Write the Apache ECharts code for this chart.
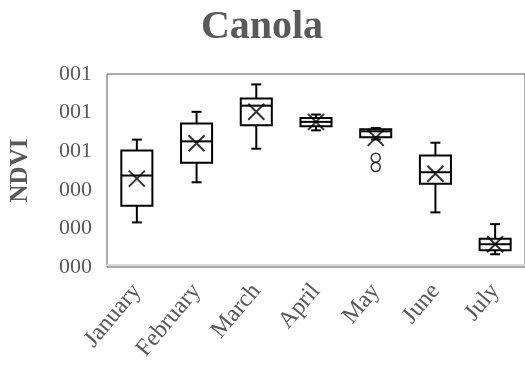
<!DOCTYPE html>
<html>
<head>
<meta charset="utf-8">
<script src="https://cdn.jsdelivr.net/npm/echarts@6/dist/echarts.min.js"></script>
<style>
  html, body { margin: 0; padding: 0; background: #fff; }
  #chart { width: 525px; height: 378px; }
</style>
</head>
<body>
<div id="chart"></div>
<script>
// Monthly NDVI distribution for canola
const months = ['January', 'February', 'March', 'April', 'May', 'June', 'July'];
const whiskerLow  = [0.231, 0.439, 0.613, 0.708, 0.661, 0.283, 0.066];
const quartile1   = [0.318, 0.540, 0.734, 0.729, 0.672, 0.431, 0.087];
const medians     = [0.474, 0.651, 0.836, 0.752, 0.703, 0.491, 0.118];
const quartile3   = [0.604, 0.743, 0.873, 0.772, 0.714, 0.578, 0.147];
const whiskerHigh = [0.660, 0.804, 0.946, 0.790, 0.720, 0.644, 0.222];
const means       = [0.458, 0.641, 0.804, 0.752, 0.669, 0.483, 0.118];
// outlying points: [month index, value]
const outliers    = [[4, 0.566], [4, 0.518]];
const yTicks = { min: 0, max: 1, interval: 0.2 };

const textGray = '#595959';
const serif = 'Liberation Serif, DejaVu Serif, serif';

const boxData = months.map((m, i) => [i, whiskerLow[i], quartile1[i], medians[i], quartile3[i], whiskerHigh[i]]);
const meanData = months.map((m, i) => [i, means[i]]);

function renderBox(params, api) {
  const i = api.value(0);
  const pLow = api.coord([i, api.value(1)]);
  const pQ1 = api.coord([i, api.value(2)]);
  const pMed = api.coord([i, api.value(3)]);
  const pQ3 = api.coord([i, api.value(4)]);
  const pHigh = api.coord([i, api.value(5)]);
  const band = api.size([1, 0])[0];
  const half = band * 0.26;
  const cap = 5;
  const x = pMed[0];
  const style = { stroke: '#000', lineWidth: 2, fill: null };
  return {
    type: 'group',
    children: [
      { type: 'line', shape: { x1: x, y1: pQ3[1], x2: x, y2: pHigh[1] }, style },
      { type: 'line', shape: { x1: x - cap, y1: pHigh[1], x2: x + cap, y2: pHigh[1] }, style },
      { type: 'line', shape: { x1: x, y1: pQ1[1], x2: x, y2: pLow[1] }, style },
      { type: 'line', shape: { x1: x - cap, y1: pLow[1], x2: x + cap, y2: pLow[1] }, style },
      { type: 'rect', shape: { x: x - half, y: pQ3[1], width: half * 2, height: pQ1[1] - pQ3[1] },
        style: { stroke: '#000', lineWidth: 2, fill: '#fff' } },
      { type: 'line', shape: { x1: x - half, y1: pMed[1], x2: x + half, y2: pMed[1] }, style }
    ]
  };
}

const chart = echarts.init(document.getElementById('chart'), null, { renderer: 'canvas' });
chart.setOption({
  animation: false,
  title: {
    text: 'Canola',
    left: 262,
    textAlign: 'center',
    top: 8,
    padding: 0,
    textStyle: { fontFamily: serif, fontWeight: 'bold', fontSize: 40, color: textGray }
  },
  grid: {
    left: 105, top: 74, right: -3, bottom: 111,
    show: true, borderColor: textGray, borderWidth: 1, backgroundColor: 'transparent'
  },
  xAxis: {
    type: 'category',
    data: months,
    boundaryGap: true,
    offset: -2,
    axisLine: { show: true, lineStyle: { color: '#d9d9d9', width: 2 } },
    axisTick: { show: false },
    axisLabel: {
      interval: 0, rotate: 50, margin: 22,
      fontFamily: serif, fontSize: 24, color: textGray
    },
    splitLine: { show: false }
  },
  yAxis: {
    type: 'value',
    min: yTicks.min, max: yTicks.max, interval: yTicks.interval,
    name: 'NDVI',
    nameLocation: 'middle',
    nameGap: 74,
    nameRotate: 90,
    nameTextStyle: { fontFamily: serif, fontWeight: 'bold', fontSize: 25, color: textGray },
    axisLine: { show: false },
    axisTick: { show: false },
    splitLine: { show: false },
    axisLabel: {
      margin: 15,
      fontFamily: serif, fontSize: 22, color: textGray,
      formatter: v => String(Math.round(v)).padStart(3, '0')
    }
  },
  series: [
    {
      type: 'custom',
      renderItem: renderBox,
      data: boxData,
      encode: { x: 0, y: [1, 2, 3, 4, 5] },
      z: 2
    },
    {
      type: 'scatter',
      data: meanData,
      symbol: 'path://M0,0L10,10M10,0L0,10',
      symbolSize: 16,
      itemStyle: { color: 'transparent', borderColor: '#000', borderWidth: 2 },
      z: 3
    },
    {
      type: 'scatter',
      data: outliers,
      symbol: 'circle',
      symbolSize: 9,
      itemStyle: { color: '#fff', borderColor: '#000', borderWidth: 1.5 },
      z: 4
    }
  ]
});
</script>
</body>
</html>
